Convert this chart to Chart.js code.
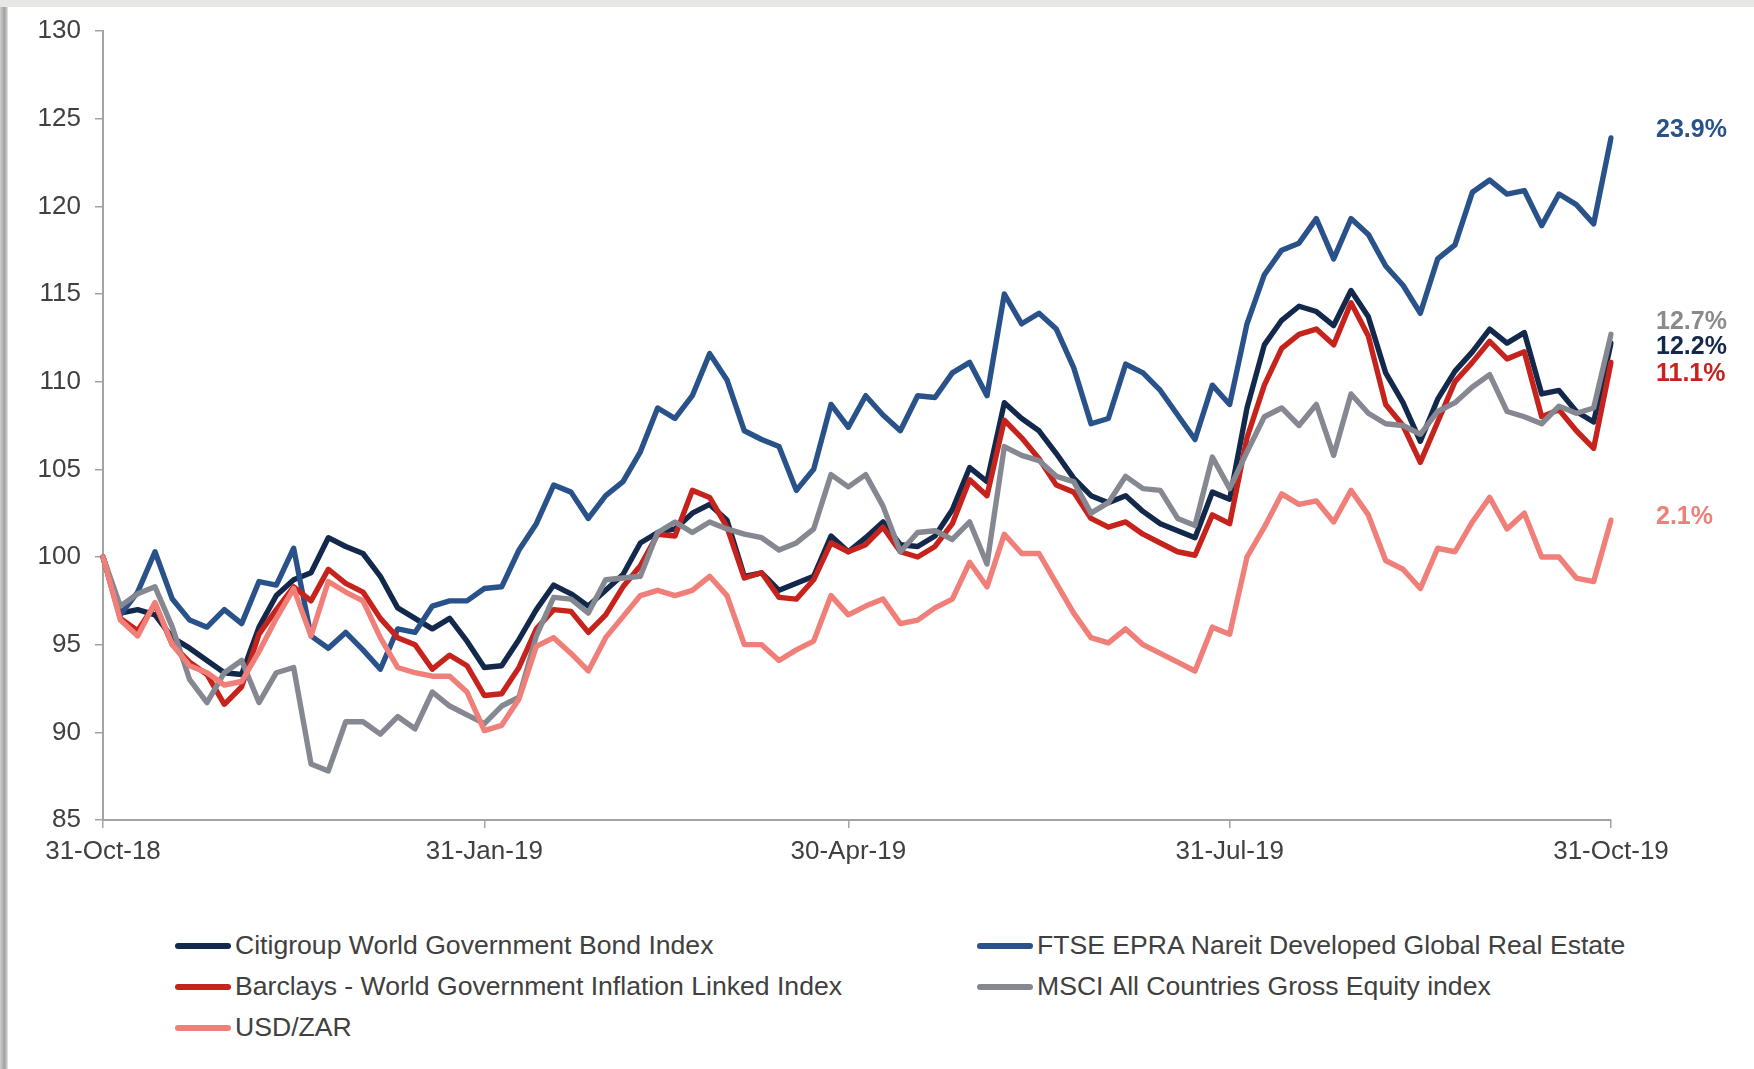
<!DOCTYPE html>
<html>
<head>
<meta charset="utf-8">
<script src="https://cdn.jsdelivr.net/npm/chart.js@4.4.1/dist/chart.umd.min.js"></script>
<style>
  html, body { margin: 0; padding: 0; }
  body { width: 1754px; height: 1069px; position: relative; overflow: hidden; background: #e7e7e5; font-family: "Liberation Sans", Arial, sans-serif; }
  .panel { position: absolute; left: 8px; top: 7px; right: 0; bottom: 0; background: #fff; }
  .edge { position: absolute; left: 0; top: 7px; bottom: 0; width: 8px; background: linear-gradient(to right, #cfcfcf, #a2a2a2 55%, #c9c9c9 85%, #ececec); }
  #wrap { position: absolute; left: 0; top: 0; width: 1754px; height: 880px; }
  #legend { position: absolute; left: 175px; top: 925px; display: grid; grid-template-columns: 802px auto; grid-auto-rows: 41px; }
  .item { display: flex; align-items: center; font-size: 26.6px; color: #404040; white-space: nowrap; }
  .swatch { width: 56px; height: 6px; border-radius: 3px; margin-right: 4px; }
</style>
</head>
<body>
<div class="panel"></div>
<div class="edge"></div>
<div id="wrap"><canvas id="chart" width="1754" height="880"></canvas></div>
<div id="legend"></div>
<script>
// every third business day, 31 Oct 2018 to 31 Oct 2019, rebased to 100
const startDate = new Date(2018, 9, 31);
const endDate = new Date(2019, 9, 31);
const tickLabels = ['31-Oct-18', '31-Jan-19', '30-Apr-19', '31-Jul-19', '31-Oct-19'];

const seriesNames = [
  'Citigroup World Government Bond Index',
  'FTSE EPRA Nareit Developed Global Real Estate',
  'Barclays - World Government Inflation Linked Index',
  'MSCI All Countries Gross Equity index',
  'USD/ZAR'
];

const citigroup = [
  100, 96.8, 97.0, 96.7, 95.4, 94.8, 94.1, 93.4, 93.3, 96.0,
  97.8, 98.7, 99.1, 101.1, 100.6, 100.2, 98.9, 97.1, 96.5, 95.9,
  96.5, 95.2, 93.7, 93.8, 95.3, 97.0, 98.4, 97.9, 97.2, 98.1,
  99.0, 100.8, 101.4, 101.6, 102.5, 103.0, 102.1, 98.9, 99.1, 98.1,
  98.5, 98.9, 101.2, 100.3, 101.1, 102.0, 100.7, 100.6, 101.2, 102.7,
  105.1, 104.3, 108.8, 107.9, 107.2, 105.9, 104.5, 103.5, 103.1, 103.5,
  102.6, 101.9, 101.5, 101.1, 103.7, 103.3, 108.5, 112.1, 113.5, 114.3,
  114.0, 113.2, 115.2, 113.7, 110.5, 108.8, 106.6, 109.0, 110.6, 111.7,
  113.0, 112.2, 112.8, 109.3, 109.5, 108.3, 107.7, 112.2
];

const ftseEpra = [
  100, 96.7, 98.0, 100.3, 97.6, 96.4, 96.0, 97.0, 96.2, 98.6,
  98.4, 100.5, 95.5, 94.8, 95.7, 94.7, 93.6, 95.9, 95.7, 97.2,
  97.5, 97.5, 98.2, 98.3, 100.4, 101.9, 104.1, 103.7, 102.2, 103.5,
  104.3, 106.0, 108.5, 107.9, 109.2, 111.6, 110.1, 107.2, 106.7, 106.3,
  103.8, 105.0, 108.7, 107.4, 109.2, 108.1, 107.2, 109.2, 109.1, 110.5,
  111.1, 109.2, 115.0, 113.3, 113.9, 113.0, 110.8, 107.6, 107.9, 111.0,
  110.5, 109.5, 108.1, 106.7, 109.8, 108.7, 113.3, 116.1, 117.5, 117.9,
  119.3, 117.0, 119.3, 118.4, 116.6, 115.5, 113.9, 117.0, 117.8, 120.8,
  121.5, 120.7, 120.9, 118.9, 120.7, 120.1, 119.0, 123.9
];

const barclays = [
  100, 96.5, 95.8, 97.3, 95.0, 94.0, 93.3, 91.6, 92.6, 95.6,
  97.0, 98.3, 97.5, 99.3, 98.5, 98.0, 96.5, 95.4, 95.0, 93.6,
  94.4, 93.8, 92.1, 92.2, 93.7, 95.9, 97.0, 96.9, 95.7, 96.7,
  98.3, 99.5, 101.3, 101.2, 103.8, 103.4, 101.7, 98.8, 99.1, 97.7,
  97.6, 98.7, 100.8, 100.3, 100.7, 101.7, 100.3, 100.0, 100.6, 101.9,
  104.4, 103.5, 107.8, 106.8, 105.6, 104.1, 103.7, 102.2, 101.7, 102.0,
  101.3, 100.8, 100.3, 100.1, 102.4, 101.9, 106.8, 109.8, 111.9, 112.7,
  113.0, 112.1, 114.5, 112.6, 108.7, 107.5, 105.4, 107.7, 110.0, 111.1,
  112.3, 111.3, 111.7, 108.0, 108.4, 107.2, 106.2, 111.1
];

const msciAcwi = [
  100, 97.2, 97.9, 98.3, 96.0, 93.0, 91.7, 93.4, 94.1, 91.7,
  93.4, 93.7, 88.2, 87.8, 90.6, 90.6, 89.9, 90.9, 90.2, 92.3,
  91.5, 91.0, 90.5, 91.5, 92.0, 95.5, 97.7, 97.6, 96.8, 98.7,
  98.8, 98.9, 101.4, 102.0, 101.4, 102.0, 101.6, 101.3, 101.1, 100.4,
  100.8, 101.6, 104.7, 104.0, 104.7, 102.9, 100.3, 101.4, 101.5, 101.0,
  102.0, 99.6, 106.3, 105.8, 105.5, 104.6, 104.3, 102.5, 103.1, 104.6,
  103.9, 103.8, 102.2, 101.8, 105.7, 103.9, 106.0, 108.0, 108.5, 107.5,
  108.7, 105.8, 109.3, 108.2, 107.6, 107.5, 107.0, 108.3, 108.8, 109.7,
  110.4, 108.3, 108.0, 107.6, 108.6, 108.2, 108.5, 112.7
];

const usdZar = [
  100, 96.4, 95.5, 97.4, 95.0, 93.8, 93.4, 92.7, 92.9, 94.6,
  96.5, 98.2, 95.5, 98.6, 98.0, 97.5, 95.4, 93.7, 93.4, 93.2,
  93.2, 92.3, 90.1, 90.4, 91.9, 94.9, 95.4, 94.5, 93.5, 95.4,
  96.6, 97.8, 98.1, 97.8, 98.1, 98.9, 97.8, 95.0, 95.0, 94.1,
  94.7, 95.2, 97.8, 96.7, 97.2, 97.6, 96.2, 96.4, 97.1, 97.6,
  99.7, 98.3, 101.3, 100.2, 100.2, 98.5, 96.8, 95.4, 95.1, 95.9,
  95.0, 94.5, 94.0, 93.5, 96.0, 95.6, 100.0, 101.7, 103.6, 103.0,
  103.2, 102.0, 103.8, 102.4, 99.8, 99.3, 98.2, 100.5, 100.3, 102.0,
  103.4, 101.6, 102.5, 100.0, 100.0, 98.8, 98.6, 102.1
];

const seriesValues = [citigroup, ftseEpra, barclays, msciAcwi, usdZar];
const lineColors = ['#13294b', '#29528a', '#c7231d', '#868891', '#ef7f78'];
const labelColors = ['#13294b', '#29528a', '#c7231d', '#8a8a8a', '#ef7f78'];
const drawOrder = [4, 3, 2, 1, 0];
// vertical nudges for the end-of-line return labels so they don't collide
const labelOffsets = [4, -8, 12, -12, -3];

const monthNames = ['Jan', 'Feb', 'Mar', 'Apr', 'May', 'Jun', 'Jul', 'Aug', 'Sep', 'Oct', 'Nov', 'Dec'];
function fmtDate(d) {
  return d.getDate() + '-' + monthNames[d.getMonth()] + '-' + String(d.getFullYear()).slice(2);
}

// business-day calendar, keeping every third trading day
const dates = [];
let bday = 0;
for (let d = new Date(startDate); d <= endDate; d.setDate(d.getDate() + 1)) {
  const wd = d.getDay();
  if (wd === 0 || wd === 6) continue;
  if (bday % 3 === 0) dates.push(fmtDate(d));
  bday++;
}

const axisColor = '#a3a3a3';
const tickFont = { family: '"Liberation Sans", Arial, sans-serif', size: 26 };

const endLabels = {
  id: 'endLabels',
  afterDatasetsDraw(chart) {
    const ctx = chart.ctx;
    const y = chart.scales.y;
    ctx.save();
    ctx.font = 'bold 25px "Liberation Sans", Arial, sans-serif';
    ctx.textAlign = 'left';
    ctx.textBaseline = 'middle';
    chart.data.datasets.forEach((ds, i) => {
      const vals = ds.data;
      const last = vals[vals.length - 1];
      const pct = ((last / vals[0] - 1) * 100).toFixed(1) + '%';
      ctx.fillStyle = labelColors[i];
      ctx.fillText(pct, 1656, y.getPixelForValue(last) + labelOffsets[i]);
    });
    ctx.restore();
  }
};

const ctx = document.getElementById('chart').getContext('2d');
const chart = new Chart(ctx, {
  type: 'line',
  data: {
    labels: dates,
    datasets: seriesValues.map((vals, i) => ({
      label: seriesNames[i],
      data: vals,
      borderColor: lineColors[i],
      backgroundColor: lineColors[i],
      order: drawOrder[i]
    }))
  },
  options: {
    responsive: false,
    animation: false,
    layout: { padding: { left: 0, top: 31, right: 143, bottom: 0 } },
    elements: {
      point: { radius: 0 },
      line: { borderWidth: 5.4, tension: 0, borderJoinStyle: 'round', borderCapStyle: 'round' }
    },
    plugins: {
      legend: { display: false },
      tooltip: { enabled: false }
    },
    scales: {
      x: {
        type: 'category',
        grid: { drawOnChartArea: false, drawTicks: true, tickLength: 8, color: axisColor, lineWidth: 1.5 },
        border: { color: axisColor, width: 2 },
        ticks: { autoSkip: false, maxRotation: 0, padding: 8, color: '#404040', font: tickFont },
        afterBuildTicks(scale) {
          scale.ticks = scale.ticks.filter(t => tickLabels.includes(dates[t.value]));
        },
        afterFit(scale) { scale.height = 60; }
      },
      y: {
        min: 85,
        max: 130,
        grid: { drawOnChartArea: false, drawTicks: true, tickLength: 8, color: axisColor, lineWidth: 1.5 },
        border: { color: axisColor, width: 2 },
        ticks: { stepSize: 5, padding: 14, color: '#404040', font: tickFont },
        afterFit(scale) { scale.width = 103; }
      }
    }
  },
  plugins: [endLabels]
});

// two-column legend beneath the plot
const legendEl = document.getElementById('legend');
chart.data.datasets.forEach(ds => {
  const item = document.createElement('div');
  item.className = 'item';
  const sw = document.createElement('span');
  sw.className = 'swatch';
  sw.style.background = ds.borderColor;
  item.appendChild(sw);
  item.appendChild(document.createTextNode(ds.label));
  legendEl.appendChild(item);
});
</script>
</body>
</html>
